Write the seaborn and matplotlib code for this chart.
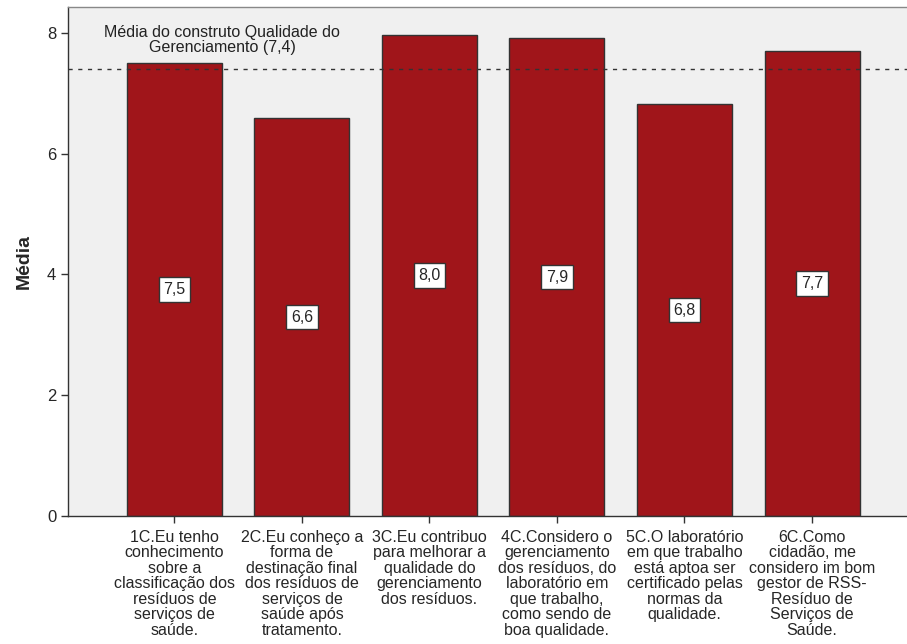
import matplotlib
matplotlib.use("Agg")
import matplotlib.pyplot as plt
import seaborn as sns

# Itens do construto e médias
itens = [
    "1C.Eu tenho\nconhecimento\nsobre a\nclassificação dos\nresíduos de\nserviços de\nsaúde.",
    "2C.Eu conheço a\nforma de\ndestinação final\ndos resíduos de\nserviços de\nsaúde após\ntratamento.",
    "3C.Eu contribuo\npara melhorar a\nqualidade do\ngerenciamento\ndos resíduos.",
    "4C.Considero o\ngerenciamento\ndos resíduos, do\nlaboratório em\nque trabalho,\ncomo sendo de\nboa qualidade.",
    "5C.O laboratório\nem que trabalho\nestá aptoa ser\ncertificado pelas\nnormas da\nqualidade.",
    "6C.Como\ncidadão, me\nconsidero im bom\ngestor de RSS-\nResíduo de\nServiços de\nSaúde.",
]
medias = [7.50, 6.59, 7.96, 7.91, 6.82, 7.70]
rotulos = ["7,5", "6,6", "8,0", "7,9", "6,8", "7,7"]
media_construto = 7.4
yticks = [0, 2, 4, 6, 8]

sns.set_theme(style="white")
plt.rcParams['font.family'] = ['Liberation Sans', 'DejaVu Sans']

fig = plt.figure(figsize=(9.07, 6.44), dpi=100)
ax = fig.add_axes([68 / 907, 128 / 644, 1 - 68 / 907, 509 / 644])
ax.set_facecolor("#F0F0F0")

sns.barplot(x=list(range(len(itens))), y=medias, color="#A0151A", saturation=1,
            edgecolor="#333333", linewidth=1, width=0.745, ax=ax)

# linha de referência da média do construto
ax.axhline(media_construto, color="#333333", linestyle=(0, (3, 4)), linewidth=1)
ax.text(0.373, 7.88, "Média do construto Qualidade do\nGerenciamento (7,4)",
        ha="center", va="center", fontsize=11.5, linespacing=1.0, color="#222222")

# rótulos de valor
for i, (v, r) in enumerate(zip(medias, rotulos)):
    ax.text(i, v / 2, r, ha="center", va="center", fontsize=11.5,
            bbox=dict(boxstyle="square,pad=0.3", fc="white", ec="#333333", lw=1))

ax.set_xlim(-0.835, 5.745)
ax.set_ylim(0, 8.43)
ax.set_yticks(yticks)
ax.set_yticklabels([str(t) for t in yticks], fontsize=12)
ax.set_xticks(range(len(itens)))
ax.set_xticklabels(itens, fontsize=11.5, linespacing=1.04, ha="center")
ax.tick_params(axis="both", which="both", length=5, width=1, color="#333333",
               bottom=True, left=True)
ax.tick_params(axis="x", pad=5)
ax.set_ylabel("Média", fontsize=14, fontweight="bold", labelpad=10)
ax.set_xlabel("")

for s in ["left", "bottom", "top"]:
    ax.spines[s].set_color("#333333")
    ax.spines[s].set_linewidth(1)
ax.spines["top"].set_color("#888888")
ax.spines["right"].set_visible(False)

fig.savefig("out.png", dpi=100)
